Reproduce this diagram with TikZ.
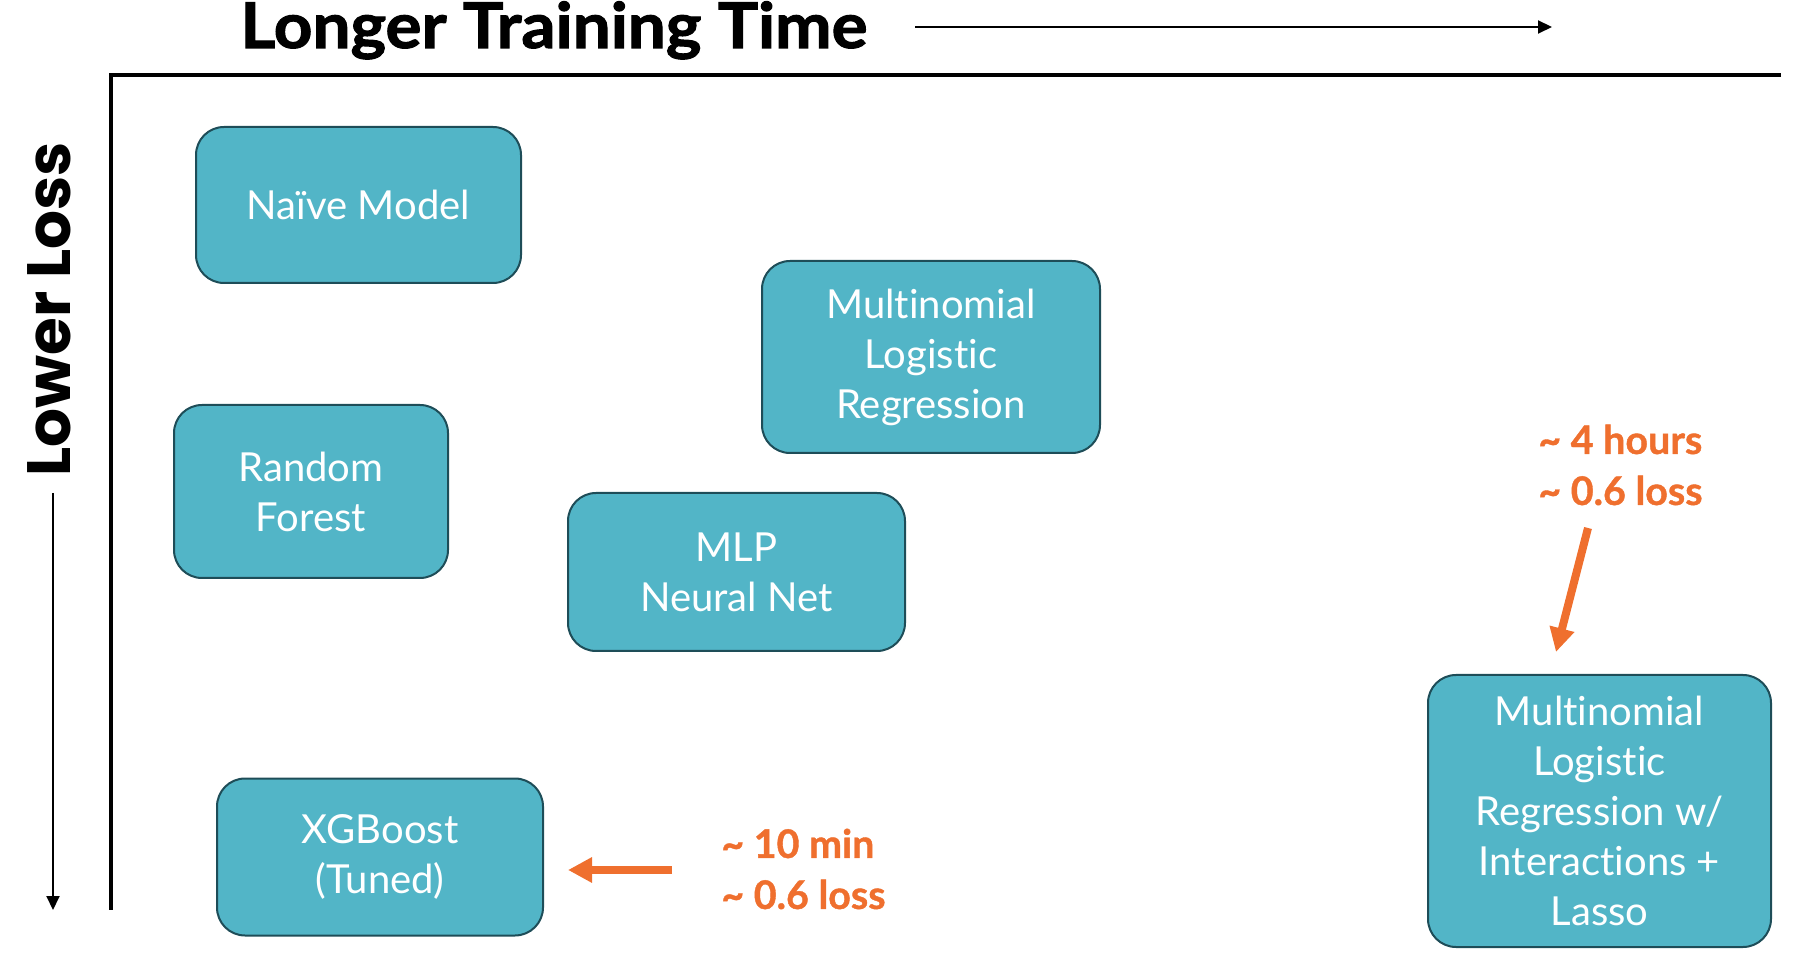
\documentclass[tikz,border=0pt]{standalone}
\usepackage{fontspec}
\setmainfont{Lato}[Ligatures=NoCommon]
\newfontfamily\poppins{Poppins}
\newfontfamily\heavy{Lato}[Ligatures=NoCommon, FakeBold=1.6]
\newfontfamily\semiheavy{Lato}[Ligatures=NoCommon, FakeBold=1.0]
\usetikzlibrary{arrows.meta}
\definecolor{boxfill}{HTML}{52B5C7}
\definecolor{boxline}{HTML}{1E4D58}
\definecolor{orng}{HTML}{EF6F2E}
\tikzset{
  model/.style={draw=boxline, line width=1pt, fill=boxfill, rounded corners=14pt,
    text=white, align=center, inner sep=0pt, font=\fontsize{20}{25}\selectfont},
  note/.style={text=orng, align=left, inner sep=0pt, anchor=west,
    font=\fontsize{19.7}{25.5}\selectfont\semiheavy\bfseries},
  orarrow/.style={draw=orng, line width=4pt, -{Triangle[length=12pt,width=12pt]}},
  blkarrow/.style={draw=black, line width=1pt, -{Triangle[length=7pt,width=6.5pt]}}
}
\begin{document}
\begin{tikzpicture}[x=0.5pt,y=-0.5pt]
\useasboundingbox (0,0) rectangle (1806,978);
% axes
\coordinate (axR) at (1781,75);
\coordinate (axO) at (111,75);
\coordinate (axB) at (111,910);
\draw[line width=2.3pt, line join=miter] (axR) -- (axO) -- (axB);
% axis titles
\node[anchor=base west, inner sep=0pt, font=\fontsize{31.5}{36}\selectfont\heavy\bfseries] (ttime) at (240,48) {\scalebox{1.07}[1]{Longer Training Time}};
\node[anchor=base west, inner sep=0pt, rotate=90, font=\fontsize{30.6}{36}\selectfont\poppins\bfseries] (tloss) at (70,477) {Lower Loss};
\coordinate (ta1) at (915,27);
\coordinate (ta2) at (1552,27);
\draw[blkarrow] (ta1) -- (ta2);
\coordinate (la1) at (53,493);
\coordinate (la2) at (53,910);
\draw[blkarrow] (la1) -- (la2);
% models
\node[model, minimum width=162.5pt, minimum height=78pt] (naive) at (358.5,205) {Naïve Model};
\node[model, minimum width=169pt, minimum height=96pt] (mlr) at (931,357) {Multinomial\\Logistic\\Regression};
\node[model, minimum width=137pt, minimum height=86.5pt] (rf) at (311,491.5) {Random\\Forest};
\node[model, minimum width=168.5pt, minimum height=79pt] (mlp) at (736.5,572) {MLP\\Neural Net};
\node[model, minimum width=163pt, minimum height=78.5pt] (xgb) at (380,857) {XGBoost\\(Tuned)};
\node[model, minimum width=171.5pt, minimum height=136pt] (mlri) at (1599.5,811) {Multinomial\\Logistic\\Regression w/\\Interactions +\\Lasso};
% notes
\node[note] (n1) at (721,869) {\textasciitilde{} 10 min\\\textasciitilde{} 0.6 loss};
\node[note] (n2) at (1538,465) {\textasciitilde{} 4 hours\\\textasciitilde{} 0.6 loss};
\coordinate (oa1) at (672,870);
\coordinate (oa2) at (568,870);
\draw[orarrow] (oa1) -- (oa2);
\coordinate (ob1) at (1588,528);
\coordinate (ob2) at (1556,652);
\draw[orarrow] (ob1) -- (ob2);
\end{tikzpicture}
\end{document}
